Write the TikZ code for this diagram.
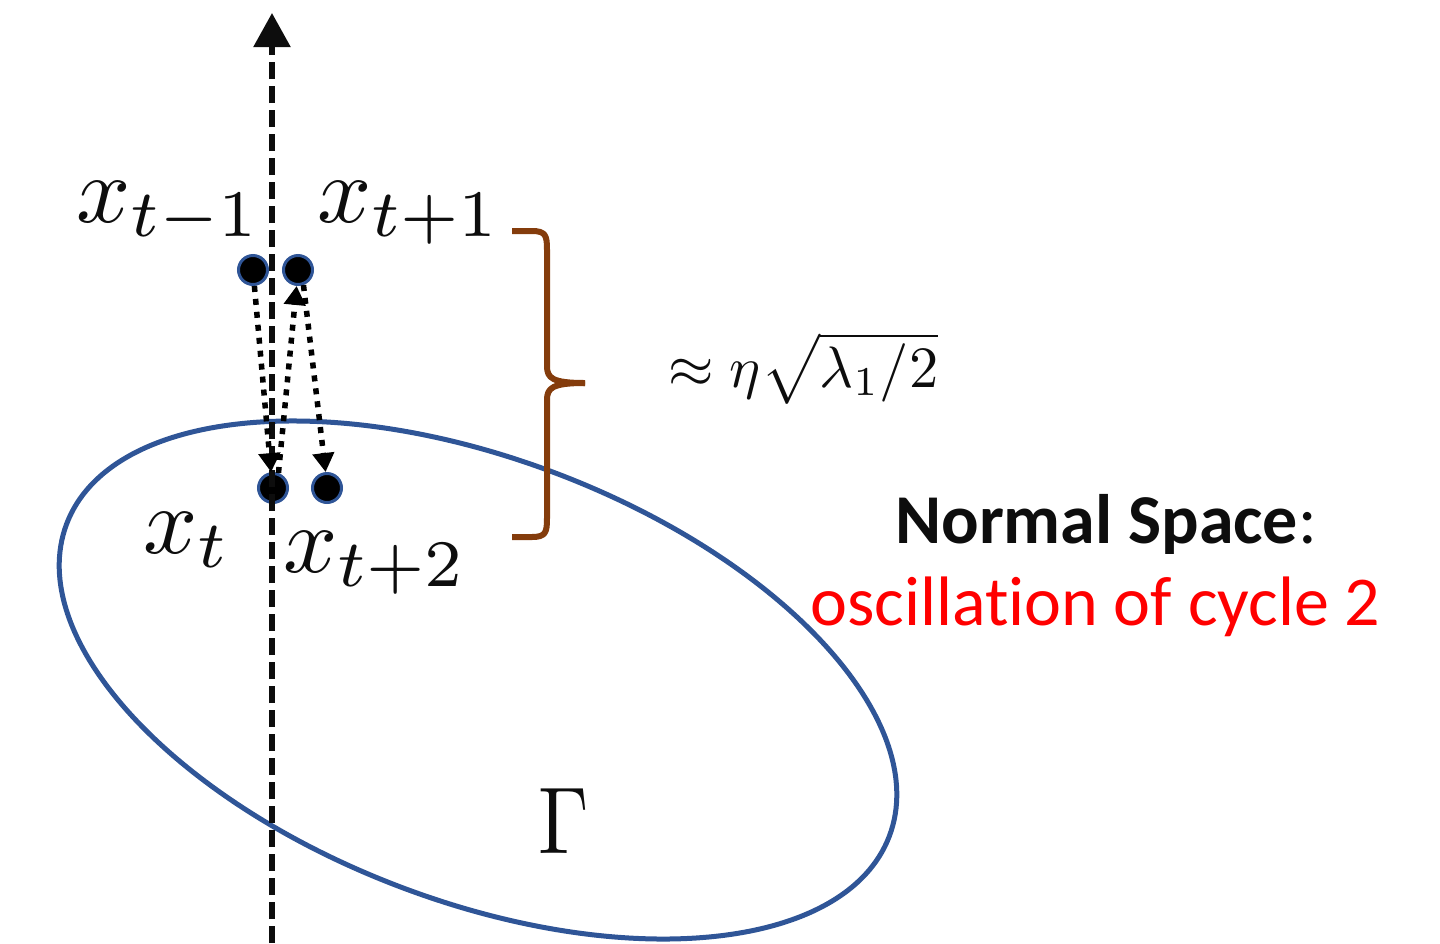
\documentclass[tikz,border=0pt]{standalone}
\usepackage{fontspec}
\newfontfamily\carlito[Ligatures={NoCommon}]{Carlito}
\usetikzlibrary{arrows.meta}
\definecolor{ellblue}{HTML}{2F5597}
\definecolor{bracebrown}{HTML}{843C0C}
\definecolor{inkblack}{HTML}{0D0D0D}
\newcommand{\bigmath}[2]{\scalebox{#1}{$#2$}}
\begin{document}
\begin{tikzpicture}[x=1pt,y=-1pt,
  ptdot/.style={circle,fill=black,draw=ellblue,line width=3pt,minimum size=29pt,inner sep=0pt},
  lbl/.style={anchor=base west,inner sep=0pt,text=inkblack},
  osc/.style={line width=5.5pt,dash pattern=on 6pt off 7pt,-{Triangle[length=19pt,width=21pt]}},
  axisline/.style={draw=inkblack,line width=5.5pt,dash pattern=on 17pt off 7pt,-{Triangle[length=34pt,width=36pt]}},
  bracestyle/.style={draw=bracebrown,line width=6pt,line join=round},
  ellstyle/.style={draw=ellblue,line width=5pt}]
\useasboundingbox (0,0) rectangle (1440,943);
% manifold Gamma
\draw[ellstyle,shift={(478,680)},rotate=-20.8] (0,0) ellipse [x radius=440pt,y radius=221pt];
\node[lbl] (gam) at (538,853) {\scalebox{8.1}[9.5]{$\Gamma$}};
% iterates
\node[ptdot] (xm1) at (253,270) {};
\node[ptdot] (xp1) at (298,270) {};
\node[ptdot] (xt) at (273,488) {};
\node[ptdot] (xt2) at (327,488) {};
% normal axis
\coordinate (axbot) at (272,943);
\coordinate (axtop) at (272,13);
\draw[axisline] (axbot) -- (axtop);
% oscillation arrows
\draw[osc] (xm1.-85) -- (xt.97);
\draw[osc] (xt.70) -- (xp1.-95);
\draw[osc] (xp1.-70) -- (xt2.95);
% labels
\node[lbl] (lxm1) at (76,222) {\bigmath{9.5}{x_{t-1}}};
\node[lbl] (lxp1) at (317,222) {\bigmath{9.5}{x_{t+1}}};
\node[lbl] (lxt) at (143,553) {\bigmath{9.5}{x_t}};
\node[lbl] (lxt2) at (283,572) {\bigmath{9.5}{x_{t+2}}};
% brace
\draw[bracestyle] (512,231) -- (532,231) .. controls (546,231) and (547,236) .. (547,250) -- (547,366) .. controls (547,378) and (552,383) .. (585,383);
\draw[bracestyle] (585,383) .. controls (552,383) and (547,388) .. (547,400) -- (547,518) .. controls (547,532) and (546,537) .. (532,537) -- (512,537);
\node[lbl] (amp) at (668,387) {\bigmath{5.85}{\approx\eta\sqrt{\lambda_1/2}}};
% text
\node[lbl,font=\carlito\fontsize{70}{84}\selectfont] (ns) at (895,543) {\textbf{Normal Space}:};
\node[lbl,text=red,font=\carlito\fontsize{70}{84}\selectfont] (osctxt) at (810,625) {oscillation of cycle 2};
\end{tikzpicture}
\end{document}
